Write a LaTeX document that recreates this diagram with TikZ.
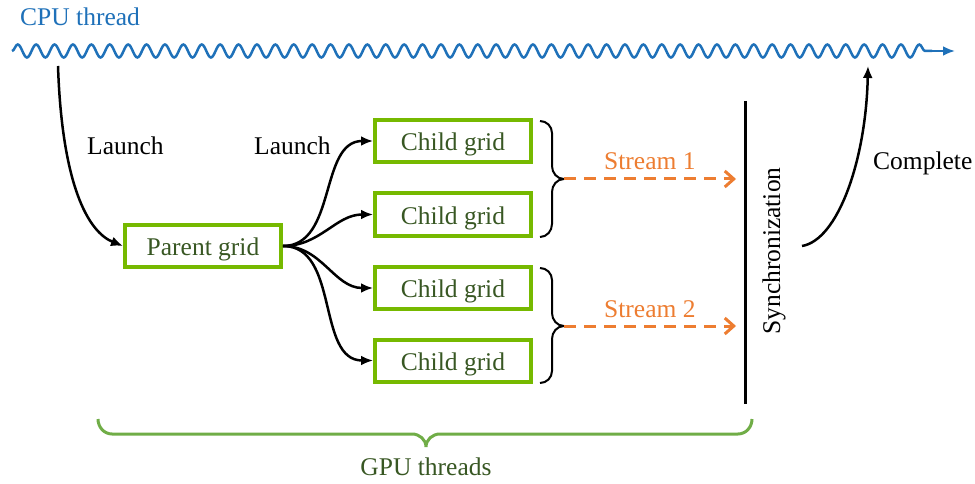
\documentclass[tikz,border=0pt]{standalone}
\usepackage{fontspec}
\setmainfont{Liberation Serif}
\usetikzlibrary{decorations.pathmorphing,arrows.meta}
\definecolor{cpublue}{RGB}{31,113,185}
\definecolor{nvgreen}{RGB}{118,185,0}
\definecolor{dkgreen}{RGB}{56,87,35}
\definecolor{strorange}{RGB}{237,125,49}
\definecolor{brgreen}{RGB}{112,173,71}
\begin{document}
\begin{tikzpicture}[x=1pt,y=-1pt,font=\fontsize{25.5}{30}\selectfont,
  gridbox/.style={draw=nvgreen,line width=4pt,minimum width=156pt,minimum height=42pt,text=dkgreen,inner sep=0pt,text height=19.4pt,text depth=0pt},
  launcharrow/.style={line width=2.5pt,-{Latex[length=12pt,width=10pt]}},
  streamarrow/.style={draw=strorange,line width=3pt,dash pattern=on 12pt off 8pt,-{Straight Barb[length=9pt,width=16pt,line width=3pt]}},
  bracepath/.style={line width=2pt},
  lbl/.style={anchor=base west,inner sep=0pt}]
\useasboundingbox (0,0) rectangle (975,484);
% CPU thread
\node[lbl,text=cpublue] (cpu) at (20,26) {CPU thread};
\coordinate (w0) at (12,51);
\coordinate (w1) at (932,51);
\coordinate (w2) at (955,51);
\draw[cpublue,line width=2.5pt,decorate,decoration={snake,segment length=18.4pt,amplitude=6.5pt}] (w0) -- (w1);
\draw[cpublue,line width=2.5pt,-{Latex[length=12pt,width=10pt]}] (w1) -- (w2);
% nodes
\node[gridbox] (p) at (203,246) {Parent grid};
\node[gridbox] (c1) at (453,141) {Child grid};
\node[gridbox] (c2) at (453,214.5) {Child grid};
\node[gridbox] (c3) at (453,288) {Child grid};
\node[gridbox] (c4) at (453,360.5) {Child grid};
\node[lbl] (l1) at (87,155) {Launch};
\node[lbl] (l2) at (254,155) {Launch};
% launch arrows
\coordinate (cpuout) at (58,66);
\draw[launcharrow] (cpuout) .. controls (62,185) and (88,232) .. (p.west);
\foreach \c in {c1,c2,c3,c4}
  \draw[launcharrow] (p.east) to[out=0,in=180] (\c.west);
% braces
\coordinate (b1) at (564,179);
\coordinate (b2) at (564,326);
\draw[bracepath] (540,121) to[out=0,in=90] (552,133) -- (552,166) to[out=-90,in=180] (b1)
  (b1) to[out=180,in=90] (552,192) -- (552,224) to[out=-90,in=0] (540,237);
\draw[bracepath] (540,268) to[out=0,in=90] (552,280) -- (552,313) to[out=-90,in=180] (b2)
  (b2) to[out=180,in=90] (552,339) -- (552,371) to[out=-90,in=0] (540,383);
% streams
\coordinate (s1) at (736,179);
\coordinate (s2) at (736,326);
\draw[streamarrow] (b1) -- (s1);
\draw[streamarrow] (b2) -- (s2);
\node[lbl,text=strorange] (st1) at (604,170) {Stream 1};
\node[lbl,text=strorange] (st2) at (604,317) {Stream 2};
% synchronization
\coordinate (sy0) at (745,101);
\coordinate (sy1) at (745,404);
\draw[line width=3pt] (sy0) -- (sy1);
\node[rotate=90] (sync) at (774,251) {Synchronization};
% complete
\coordinate (cs) at (802,246);
\coordinate (ce) at (868,66);
\draw[launcharrow] (cs) .. controls (838,240) and (866,160) .. (ce);
\node[lbl] (comp) at (873,170) {Complete};
% GPU brace
\coordinate (g) at (426,447);
\draw[brgreen,line width=3pt] (98,419) to[out=-90,in=180] (112,434) -- (412,434) to[out=0,in=90] (g)
  (g) to[out=90,in=180] (440,434) -- (738,434) to[out=0,in=-90] (752,419);
\node[lbl,text=dkgreen,anchor=base] (gpu) at (426,475) {GPU threads};
\end{tikzpicture}
\end{document}
